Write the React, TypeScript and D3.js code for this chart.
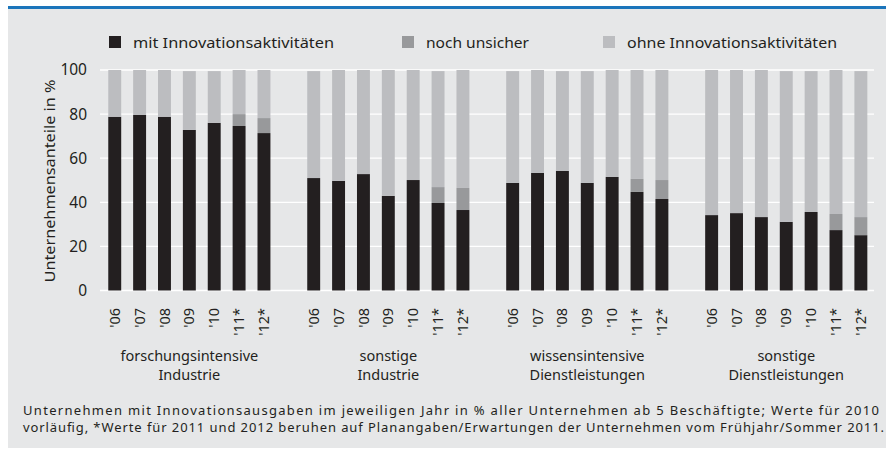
import React from "react";
import * as d3 from "d3";

const groups = ["forschungsintensive|Industrie", "sonstige|Industrie", "wissensintensive|Dienstleistungen", "sonstige|Dienstleistungen"];
const years = ["'06", "'07", "'08", "'09", "'10", "'11*", "'12*"];
const seriesNames = ["mit Innovationsaktivitäten", "noch unsicher", "ohne Innovationsaktivitäten"];
const colors = ["#231f20", "#98999b", "#bcbdc0"];

const mit = [
  [78.8, 79.6, 78.8, 72.8, 76.0, 74.6, 71.4],
  [51.0, 49.7, 52.8, 42.9, 50.1, 39.7, 36.5],
  [48.8, 53.3, 54.2, 48.8, 51.5, 44.7, 41.5],
  [34.2, 35.1, 33.3, 31.1, 35.6, 27.4, 25.1],
];
const unsicher = [
  [0, 0, 0, 0, 0, 5.4, 6.8],
  [0, 0, 0, 0, 0, 7.2, 10.0],
  [0, 0, 0, 0, 0, 5.9, 8.6],
  [0, 0, 0, 0, 0, 7.3, 8.2],
];
const ohne = [
  [21.2, 20.4, 21.2, 26.7, 23.5, 20.0, 21.8],
  [48.5, 50.3, 47.2, 57.1, 49.9, 52.6, 53.5],
  [50.7, 46.7, 45.3, 50.7, 48.5, 49.4, 49.9],
  [65.8, 64.9, 66.7, 68.4, 63.9, 65.3, 66.2],
];
const yTicks = [0, 20, 40, 60, 80, 100];
const footnote1 = "Unternehmen mit Innovationsausgaben im jeweiligen Jahr in % aller Unternehmen ab 5 Beschäftigte; Werte für 2010";
const footnote2 = "vorläufig, *Werte für 2011 und 2012 beruhen auf Planangaben/Erwartungen der Unternehmen vom Frühjahr/Sommer 2011.";
const yTitle = "Unternehmensanteile in %";

export default function App() {
  const W = 886, H = 450;
  const font = "'Noto Sans', 'Open Sans', sans-serif";
  const y = d3.scaleLinear().domain([0, 100]).range([290.5, 70]);
  const xG = d3.scaleBand<string>().domain(groups).range([102.3, 873.3]).paddingInner(0.125).paddingOuter(0);
  const xY = d3.scaleBand<string>().domain(years).range([0, xG.bandwidth()]).paddingInner(0.48).paddingOuter(0.24);

  const rows = groups.flatMap((g, gi) =>
    years.map((yr, yi) => ({ g, yr, s0: mit[gi][yi], s1: unsicher[gi][yi], s2: ohne[gi][yi] }))
  );
  const stacked = d3.stack<any>().keys(["s0", "s1", "s2"])(rows);

  const legendX = [109, 402, 603];
  const legendTextLen = [201, 103, 210];

  return (
    <svg width={W} height={H} style={{ position: "absolute", left: 0, top: 0 }} fontFamily={font}>
      <rect x={8} y={9} width={878} height={439} fill="#e6e7e8" />
      <rect x={8} y={6} width={878} height={3} fill="#1b75bb" />

      {seriesNames.map((n, i) => (
        <g key={n}>
          <rect x={legendX[i]} y={36} width={12} height={12} fill={colors[i]} />
          <text x={legendX[i] + 24} y={48} fontSize={15} fill="#231f20" textLength={legendTextLen[i]} lengthAdjust="spacingAndGlyphs">{n}</text>
        </g>
      ))}

      {yTicks.map((t) => (
        <g key={t}>
          <line x1={100} x2={874} y1={y(t)} y2={y(t)} stroke="#ffffff" strokeWidth={1.3} />
          <text x={87} y={y(t)} dy="0.35em" textAnchor="end" fontSize={15.5} fill="#231f20">{t}</text>
        </g>
      ))}

      <text transform={`translate(55,181) rotate(-90)`} textAnchor="middle" fontSize={15} fill="#231f20" textLength={203} lengthAdjust="spacingAndGlyphs">{yTitle}</text>

      {stacked.map((layer, li) => (
        <g key={li} fill={colors[li]}>
          {layer.map((d: any, i: number) => {
            const r = d.data;
            const h = y(d[0]) - y(d[1]);
            if (h <= 0) return null;
            return <rect key={i} x={(xG(r.g) as number) + (xY(r.yr) as number)} y={y(d[1])} width={xY.bandwidth()} height={h} />;
          })}
        </g>
      ))}

      {groups.map((g) => (
        <g key={g}>
          {years.map((yr) => {
            const cx = (xG(g) as number) + (xY(yr) as number) + xY.bandwidth() / 2;
            return (
              <text key={yr} transform={`translate(${cx},308) rotate(-90)`} dy="0.35em" textAnchor="end" fontSize={14.5} fill="#231f20">{yr}</text>
            );
          })}
          {g.split("|").map((line, li) => (
            <text key={li} x={(xG(g) as number) + xG.bandwidth() / 2} y={361 + li * 19} textAnchor="middle" fontSize={14.5} fill="#231f20">{line}</text>
          ))}
        </g>
      ))}

      <text x={23} y={415} fontSize={13} fill="#231f20" textLength={856} lengthAdjust="spacing">{footnote1}</text>
      <text x={23} y={432} fontSize={13} fill="#231f20" textLength={861} lengthAdjust="spacing">{footnote2}</text>
    </svg>
  );
}
